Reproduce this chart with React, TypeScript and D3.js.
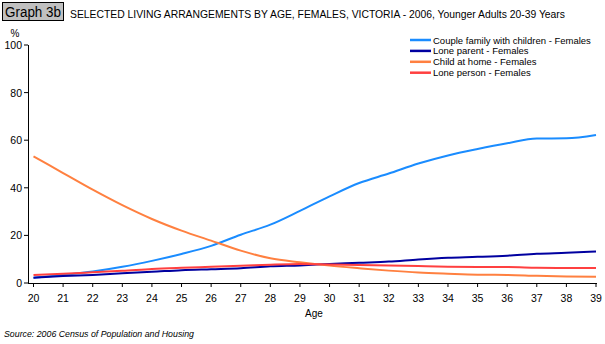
import React from "react";
import * as d3 from "d3";

const ages = [20,21,22,23,24,25,26,27,28,29,30,31,32,33,34,35,36,37,38,39];
const coupleFamily = [2.2,3.4,4.8,6.8,9.3,12.2,15.6,20.3,24.5,30.3,36.4,42,46,50.2,53.6,56.3,58.7,60.7,60.8,62.2];
const loneParent = [2.2,2.9,3.4,4.1,4.7,5.4,5.8,6.2,7.0,7.4,8.0,8.5,9.0,9.9,10.6,11.0,11.5,12.3,12.7,13.2];
const childAtHome = [53.2,46.2,39.2,32.7,26.9,22.0,17.8,13.6,10.4,8.7,7.3,6.2,5.2,4.4,3.9,3.5,3.4,3.0,2.7,2.6];
const lonePerson = [3.4,3.9,4.5,5.1,5.9,6.4,6.8,7.2,7.7,8.0,7.8,7.6,7.4,7.1,6.8,6.7,6.7,6.4,6.3,6.3];
const yTicks = [0,20,40,60,80,100];

const seriesNames = [
  "Couple family with children - Females",
  "Lone parent - Females",
  "Child at home - Females",
  "Lone person - Females",
];
const seriesValues = [coupleFamily, loneParent, childAtHome, lonePerson];
const seriesColors = ["#1a8cff", "#0000a0", "#ff8040", "#ff4040"];

export default function App() {
  const W = 605, H = 344;
  const x = d3.scaleLinear().domain([20, 39]).range([33.5, 596]);
  const y = d3.scaleLinear().domain([0, 100]).range([283, 45]);
  const line = d3.line<number>()
    .x((_, i) => x(ages[i]))
    .y((d) => y(d))
    .curve(d3.curveMonotoneX);
  const font = "'Liberation Sans', Arial, sans-serif";
  return (
    <svg width={W} height={H} style={{ position: "absolute", left: 0, top: 0, background: "#fff" }} fontFamily={font}>
      <rect x={0} y={0} width={W} height={H} fill="#fff" />
      <rect x={2.5} y={2.5} width={61} height={18} fill="#c0c0c0" stroke="#000" strokeWidth={1} />
      <text x={5} y={17} fontSize={14} textLength={56} lengthAdjust="spacingAndGlyphs">Graph 3b</text>
      <text x={70} y={18} fontSize={11} textLength={495} lengthAdjust="spacingAndGlyphs">
        SELECTED LIVING ARRANGEMENTS BY AGE, FEMALES, VICTORIA - 2006, Younger Adults 20-39 Years
      </text>
      <text x={15} y={37} fontSize={10} textAnchor="middle">%</text>
      {yTicks.map((t) => (
        <g key={t}>
          <line x1={24} x2={28} y1={y(t)} y2={y(t)} stroke="#000" />
          <text x={22} y={y(t) + 4} fontSize={10.5} textAnchor="end">{t}</text>
        </g>
      ))}
      <line x1={28.5} x2={28.5} y1={y(100)} y2={y(0) + 0.5} stroke="#000" />
      <line x1={28} x2={597} y1={y(0) + 0.5} y2={y(0) + 0.5} stroke="#000" />
      {ages.map((a) => (
        <g key={a}>
          <line x1={x(a)} x2={x(a)} y1={y(0)} y2={y(0) + 4} stroke="#000" />
          <text x={x(a)} y={302} fontSize={10.5} textAnchor="middle">{a}</text>
        </g>
      ))}
      <text x={314} y={317} fontSize={10} textAnchor="middle">Age</text>
      {seriesValues.map((vals, i) => (
        <path key={i} d={line(vals) || ""} fill="none" stroke={seriesColors[i]} strokeWidth={2} />
      ))}
      {seriesNames.map((n, i) => (
        <g key={n}>
          <line x1={410} x2={431} y1={40 + i * 10.9} y2={40 + i * 10.9} stroke={seriesColors[i]} strokeWidth={2.5} />
          <text x={433} y={43.5 + i * 10.9} fontSize={9.5}>{n}</text>
        </g>
      ))}
      <text x={4} y={337} fontSize={8.5} fontStyle="italic" textLength={190} lengthAdjust="spacingAndGlyphs">Source: 2006 Census of Population and Housing</text>
    </svg>
  );
}
